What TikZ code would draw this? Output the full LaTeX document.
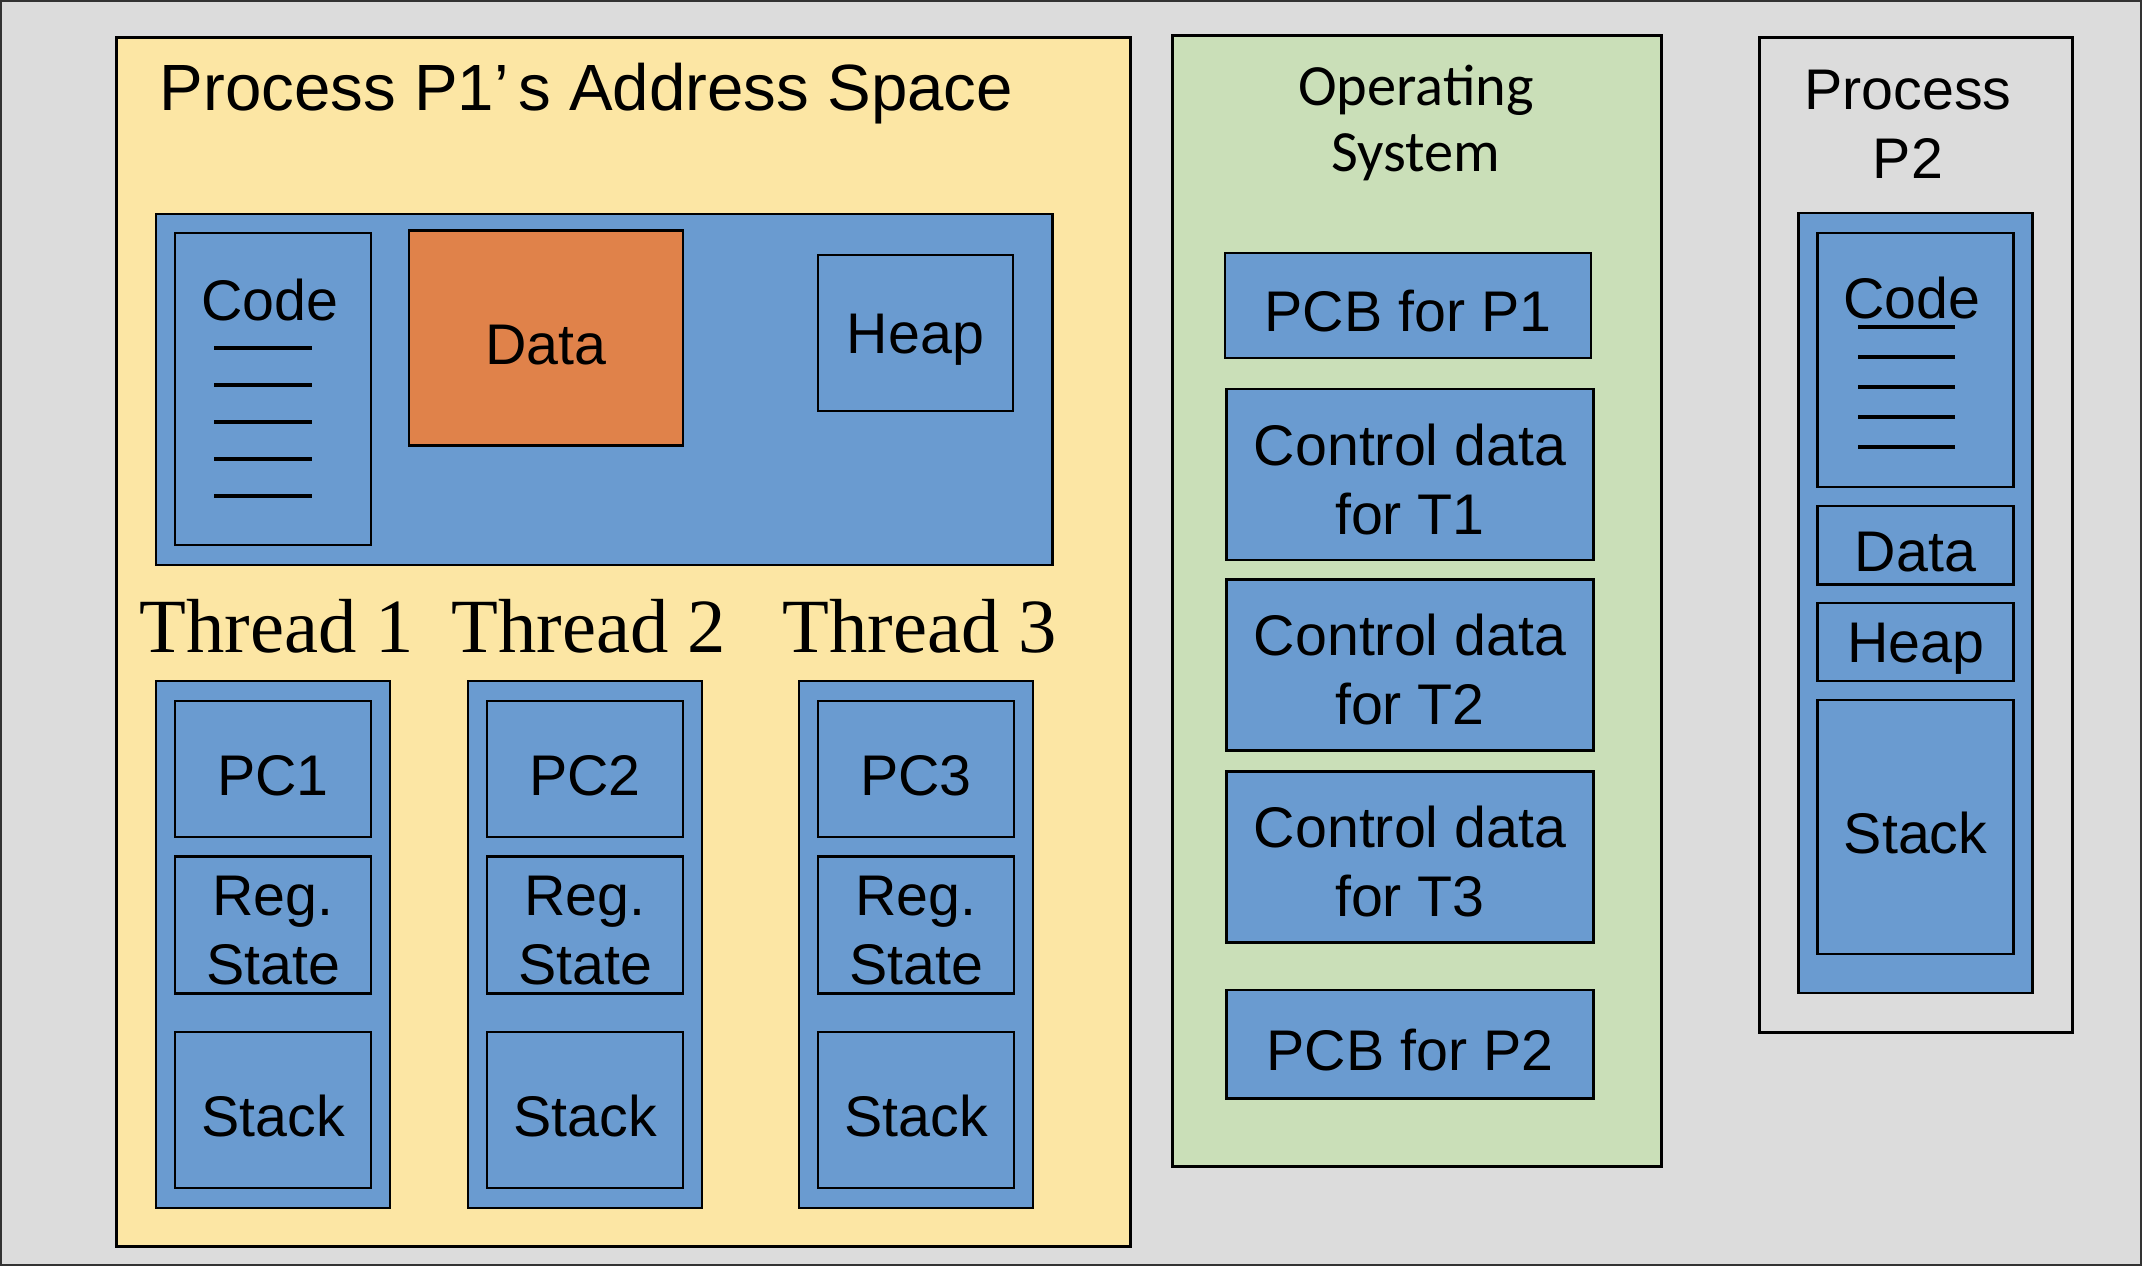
\documentclass[tikz,border=0pt]{standalone}
\usepackage{fontspec}
\setmainfont{Liberation Sans}
\newfontfamily\threadserif{Liberation Serif}
\newfontfamily\oscalibri{Carlito}
\newcommand{\bodyfont}{\fontsize{16.3}{19.6}\selectfont}
\newcommand{\titlefont}{\fontsize{18.6}{22}\selectfont}
\newcommand{\threadfont}{\threadserif\fontsize{21.8}{26}\selectfont}
\newcommand{\osfont}{\oscalibri\fontsize{16.6}{18.5}\selectfont}
\newcommand{\segstrut}{\rule{0pt}{14.6pt}}
\definecolor{bggray}{HTML}{DCDCDC}
\definecolor{p1yellow}{HTML}{FCE6A4}
\definecolor{osgreen}{HTML}{CADFB8}
\definecolor{segblue}{HTML}{6A9BD0}
\definecolor{dataorange}{HTML}{E0824A}
\tikzset{
  panel/.style={draw=black, line width=0.8pt, inner sep=0pt},
  seg/.style={draw=black, fill=segblue, line width=0.7pt, inner sep=0pt,
    font=\bodyfont, align=center, execute at begin node={\rule{0pt}{15pt}}},
  codeline/.style={line width=1pt, black}
}
\begin{document}
\begin{tikzpicture}[x=0.01cm,y=-0.01cm]
            % Canvas
            \useasboundingbox (0,0) rectangle (2142,1266);
            \fill[bggray] (0,0) rectangle (2142,1266);
            \draw[line width=0.4pt, black!80] (1,1) rectangle (2141,1265);
            % Process P1
            \node[panel, fill=p1yellow, minimum width=10.13cm, minimum height=12.08cm] (p1) at (623.5,642) {};
            \node[anchor=base west, font=\titlefont, inner sep=0pt] (p1title) at (159,110) {Process P1’\hspace{0.15em}s Address Space};
            \node[seg, minimum width=8.96cm, minimum height=3.51cm] (p1space) at (604,389.5) {};
            \node[seg, minimum width=1.96cm, minimum height=3.12cm] (p1code) at (273,389) {};
            \node[anchor=base, font=\bodyfont, inner sep=0pt] (p1codetxt) at (270,320) {Code};
            \foreach \k in {0,...,4}
              \draw[codeline] (214,{348+37*\k}) -- (312,{348+37*\k});
            \node[seg, fill=dataorange, minimum width=2.74cm, minimum height=2.145cm] (p1data) at (546,338) {Data};
            \node[seg, minimum width=1.95cm, minimum height=1.56cm] (p1heap) at (915.5,333) {Heap};
            % Threads
            \foreach \i/\x in {1/273,2/585,3/916} {
              \node[anchor=base, font=\threadfont, inner sep=0pt] (tlabel\i) at (\x+4,652) {Thread \i};
              \node[seg, minimum width=2.34cm, minimum height=5.27cm] (t\i) at (\x,944.5) {};
              \node[seg, minimum width=1.96cm, minimum height=1.36cm] (pc\i) at (\x,769) {PC\i};
              \node[seg, minimum width=1.96cm, minimum height=1.37cm] (reg\i) at (\x,925) {\segstrut Reg.\\State};
              \node[seg, minimum width=1.96cm, minimum height=1.56cm] (stack\i) at (\x,1110) {Stack};
            }
            % Operating system
            \node[panel, fill=osgreen, minimum width=4.88cm, minimum height=11.30cm] (os) at (1417,601) {};
            \node[font=\osfont, align=center, inner sep=0pt] (ostitle) at (1416,123) {Operating\\System};
            \node[seg, minimum width=3.66cm, minimum height=1.05cm] (pcb1) at (1408,305.5) {PCB for P1};
            \foreach \i/\y in {1/474.4,2/665,3/857}
              \node[seg, minimum width=3.67cm, minimum height=1.71cm] (ctl\i) at (1410,\y) {\segstrut Control data\\for T\i};
            \node[seg, minimum width=3.67cm, minimum height=1.085cm] (pcb2) at (1410,1044) {PCB for P2};
            % Process P2
            \node[panel, fill=bggray, minimum width=3.135cm, minimum height=9.95cm] (p2) at (1916,535) {};
            \node[font=\bodyfont, align=center, inner sep=0pt] (p2title) at (1908,124) {Process\\P2};
            \node[seg, minimum width=2.34cm, minimum height=7.80cm] (p2space) at (1915.5,603) {};
            \node[seg, minimum width=1.96cm, minimum height=2.535cm] (p2code) at (1915.5,360) {};
            \node[anchor=base, font=\bodyfont, inner sep=0pt] (p2codetxt) at (1912,318) {Code};
            \foreach \k in {0,...,4}
              \draw[codeline] (1858,{327+30*\k}) -- (1955,{327+30*\k});
            \node[seg, minimum width=1.96cm, minimum height=0.785cm] (p2data) at (1915.5,545) {Data};
            \node[seg, minimum width=1.96cm, minimum height=0.78cm] (p2heap) at (1915.5,642) {Heap};
            \node[seg, minimum width=1.96cm, minimum height=2.54cm] (p2stack) at (1915.5,827) {Stack};
\end{tikzpicture}
\end{document}
